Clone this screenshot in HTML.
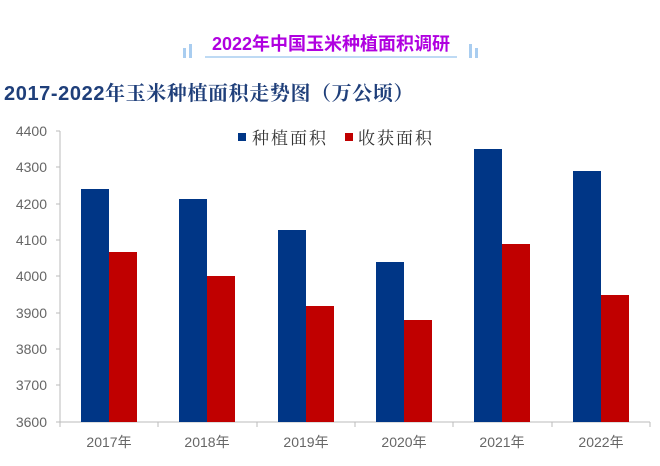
<!DOCTYPE html>
<html><head><meta charset="utf-8"><style>
body{margin:0;background:#fff;width:660px;height:466px;overflow:hidden;position:relative;font-family:"Liberation Sans","Noto Sans CJK SC",sans-serif}
</style></head><body>
<svg width="660" height="466" xmlns="http://www.w3.org/2000/svg" style="position:absolute;left:0;top:0">
<rect x="183" y="48" width="3" height="10" fill="#a9cdf0"/><rect x="189" y="44" width="3" height="14" fill="#a9cdf0"/>
<rect x="469" y="44" width="3" height="14" fill="#a9cdf0"/><rect x="475" y="48" width="3" height="10" fill="#a9cdf0"/>
<line x1="205" y1="57" x2="457" y2="57" stroke="#a9cdf0" stroke-width="1.5"/>
<text x="331" y="50" text-anchor="middle" font-size="18" font-weight="bold" fill="#b000e0" font-family="Liberation Sans,Noto Sans CJK SC,sans-serif">2022年中国玉米种植面积调研</text>
<text x="4" y="100" font-size="20" font-weight="bold" fill="#1f3f7a" letter-spacing="0.6" font-family="Liberation Sans,Noto Serif CJK SC,serif">2017-2022年玉米种植面积走势图（万公顷）</text>
<g font-size="14" fill="#666" text-anchor="end">
<text x="47" y="136">4400</text><text x="47" y="172">4300</text><text x="47" y="209">4200</text><text x="47" y="245">4100</text><text x="47" y="281">4000</text><text x="47" y="318">3900</text><text x="47" y="354">3800</text><text x="47" y="390">3700</text><text x="47" y="427">3600</text>
</g>
<g stroke="#bbb" stroke-width="1">
<line x1="60" y1="131" x2="60" y2="422"/>
<line x1="56" y1="131" x2="60" y2="131"/><line x1="56" y1="167" x2="60" y2="167"/><line x1="56" y1="204" x2="60" y2="204"/><line x1="56" y1="240" x2="60" y2="240"/><line x1="56" y1="276" x2="60" y2="276"/><line x1="56" y1="313" x2="60" y2="313"/><line x1="56" y1="349" x2="60" y2="349"/><line x1="56" y1="385" x2="60" y2="385"/>
<line x1="56" y1="422" x2="650" y2="422"/>
<line x1="60" y1="422" x2="60" y2="427"/><line x1="158" y1="422" x2="158" y2="427"/><line x1="257" y1="422" x2="257" y2="427"/><line x1="355" y1="422" x2="355" y2="427"/><line x1="453" y1="422" x2="453" y2="427"/><line x1="552" y1="422" x2="552" y2="427"/><line x1="650" y1="422" x2="650" y2="427"/>
</g>
<g fill="#003686">
<rect x="81" y="189" width="28" height="233"/><rect x="179" y="199" width="28" height="223"/><rect x="278" y="230" width="28" height="192"/><rect x="376" y="262" width="28" height="160"/><rect x="474" y="149" width="28" height="273"/><rect x="573" y="171" width="28" height="251"/>
</g>
<g fill="#c00000">
<rect x="109" y="252" width="28" height="170"/><rect x="207" y="276" width="28" height="146"/><rect x="306" y="306" width="28" height="116"/><rect x="404" y="320" width="28" height="102"/><rect x="502" y="244" width="28" height="178"/><rect x="601" y="295" width="28" height="127"/>
</g>
<g font-size="14" fill="#666" text-anchor="middle">
<text x="109" y="447">2017年</text><text x="207" y="447">2018年</text><text x="306" y="447">2019年</text><text x="404" y="447">2020年</text><text x="502" y="447">2021年</text><text x="601" y="447">2022年</text>
</g>
<rect x="238" y="133" width="8" height="8" fill="#003686"/>
<text x="252" y="144" font-size="17" fill="#333" letter-spacing="2" font-family="Liberation Serif,Noto Serif CJK SC,serif">种植面积</text>
<rect x="345" y="133" width="8" height="8" fill="#c00000"/>
<text x="358" y="144" font-size="17" fill="#333" letter-spacing="2" font-family="Liberation Serif,Noto Serif CJK SC,serif">收获面积</text>
</svg>
</body></html>
